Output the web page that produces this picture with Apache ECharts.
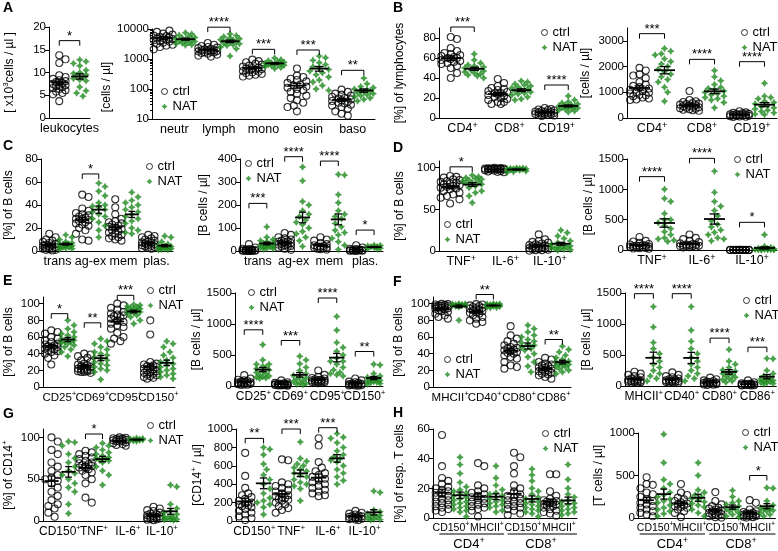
<!DOCTYPE html>
<html><head><meta charset="utf-8">
<script src="https://cdn.jsdelivr.net/npm/echarts@6/dist/echarts.min.js"></script>
<style>html,body{margin:0;padding:0;background:#fff}#c{width:778px;height:551px}</style>
</head><body><div id="c"></div>
<script>
// ---------------- DATA ----------------
// A left: leukocytes [x10^3 cells/µl]
const leuko_categories = ['leukocytes'];
const leuko_ticks = [0, 5, 10, 15, 20];
const leuko_ctrl = [[13.8, 12.9, 12.1, 9.4, 9.0, 8.6, 8.3, 8.1, 7.9, 7.7, 7.5, 7.3, 7.2, 7.0, 6.8, 6.6, 6.4, 6.1, 5.8, 5.5, 5.2, 3.7]];
const leuko_nat = [[12.8, 12.4, 12.0, 11.5, 10.5, 10.0, 9.8, 9.5, 9.3, 9.0, 8.7, 8.4, 8.2, 6.8, 6.0, 5.5, 4.8]];
const leuko_sig = [[0, '*', 17]];

// A right: blood counts [cells/µl], log axis
const blood_categories = ['neutr', 'lymph', 'mono', 'eosin', 'baso'];
const blood_ticks = [10, 100, 1000, 10000];
const blood_ctrl = [
  [10500, 8800, 8000, 7000, 6500, 6000, 5800, 5500, 5200, 5000, 4800, 4600, 4400, 4200, 4000, 3800, 3500, 3200, 3000, 2800, 2500, 2100],
  [3400, 3000, 2700, 2500, 2400, 2300, 2200, 2100, 2000, 1950, 1900, 1850, 1800, 1750, 1700, 1650, 1600, 1500, 1400, 1300, 1200],
  [950, 850, 780, 700, 650, 600, 560, 520, 500, 480, 460, 440, 420, 400, 380, 360, 340, 320, 300, 280, 260],
  [480, 280, 250, 220, 200, 180, 160, 140, 130, 120, 110, 100, 90, 80, 70, 60, 50, 42, 35, 28, 25, 18],
  [95, 80, 70, 65, 60, 55, 50, 48, 45, 42, 40, 38, 35, 33, 30, 28, 25, 22, 18, 15, 13]];
const blood_nat = [
  [7500, 6800, 6200, 5600, 5200, 4900, 4600, 4400, 4200, 4000, 3800, 3600, 3400, 3200, 3000, 2900],
  [6800, 6000, 5500, 5000, 4700, 4400, 4200, 4000, 3800, 3600, 3400, 3200, 3000, 2800, 2500, 2200, 1250],
  [1080, 950, 880, 820, 780, 740, 720, 700, 680, 660, 640, 620, 600, 560, 520, 480],
  [1250, 1100, 900, 750, 650, 550, 500, 450, 400, 350, 300, 250, 200, 170, 130, 100, 90],
  [230, 150, 120, 110, 100, 95, 90, 85, 80, 75, 70, 65, 60, 55, 50, 45, 40]];
const blood_sig = [[1, '****', 11500], [2, '***', 2100], [3, '***', 2000], [4, '**', 420]];

// B left: % of lymphocytes
const lymphPct_categories = ['CD4+', 'CD8+', 'CD19+'];
const lymphPct_ticks = [0, 20, 40, 60, 80];
const lymphPct_ctrl = [
  [81, 79, 70, 67, 65, 64, 63, 62, 61, 60, 60, 59, 58, 57, 56, 55, 54, 52, 50, 45, 40],
  [39, 35, 32, 30, 29, 28, 27, 26, 25, 25, 24, 23, 22, 21, 20, 19, 18, 16, 16, 14, 14],
  [10, 9, 8.5, 8, 7.5, 7, 6.5, 6, 6, 5.5, 5, 5, 4.5, 4, 4, 3.5, 3, 3, 2.5, 2]];
const lymphPct_nat = [
  [64, 58, 55, 53, 52, 51, 50, 49, 48, 47, 46, 45, 44, 43, 42, 40],
  [37, 36, 34, 33, 32, 31, 30, 29, 28, 27, 26, 25, 24, 23, 21, 19, 18],
  [22, 18, 16, 15, 14, 13, 12.5, 12, 11.5, 11, 10.5, 10, 9.5, 9, 8, 7, 6]];
const lymphPct_sig = [[0, '***', 91], [2, '****', 33]];

// B right: lymphocytes [cells/µl]
const lymphAbs_categories = ['CD4+', 'CD8+', 'CD19+'];
const lymphAbs_ticks = [0, 1000, 2000, 3000];
const lymphAbs_ctrl = [
  [1950, 1850, 1700, 1650, 1550, 1400, 1300, 1250, 1200, 1150, 1100, 1050, 1000, 980, 950, 900, 880, 850, 800, 760, 720, 700],
  [1050, 700, 650, 620, 580, 560, 540, 520, 500, 480, 460, 440, 420, 400, 380, 360, 340, 320, 300, 280],
  [260, 220, 200, 180, 160, 150, 140, 130, 120, 110, 100, 90, 80, 70, 60, 50, 40]];
const lymphAbs_nat = [
  [2700, 2600, 2500, 2450, 2300, 2200, 2100, 2000, 1900, 1800, 1700, 1600, 1500, 1400, 1200, 1000, 650],
  [1850, 1600, 1450, 1300, 1200, 1150, 1100, 1050, 1000, 950, 900, 850, 800, 750, 700, 600, 400],
  [1350, 850, 800, 750, 650, 600, 550, 500, 450, 400, 350, 300, 250, 200, 150, 130]];
const lymphAbs_sig = [[0, '***', 3280], [1, '****', 2280], [2, '****', 2190]];

// C left: B cell subsets [%]
const bsubPct_categories = ['trans', 'ag-ex', 'mem', 'plas.'];
const bsubPct_ticks = [0, 20, 40, 60, 80];
const bsubPct_ctrl = [
  [15, 12, 10, 9, 8, 7, 6, 5.5, 5, 4.5, 4, 3.5, 3, 2.5, 2, 1.5, 1, 1, 0.5],
  [49, 47, 37, 35, 33, 32, 31, 30, 29, 28, 28, 27, 26, 25, 24, 23, 22, 20, 18, 15, 10, 9],
  [45, 38, 32, 28, 26, 25, 24, 23, 22, 21, 20, 19, 18, 17, 16, 15, 14, 13, 12, 11, 10, 9],
  [14, 13, 12, 11, 10, 9, 8, 7.5, 7, 6.5, 6, 5.5, 5, 4.5, 4, 3.5, 3, 2.5, 2]];
const bsubPct_nat = [
  [14, 12, 10, 8, 7, 6.5, 6, 5.5, 5, 4.5, 4, 3.5, 3, 2.5, 2, 1.5],
  [59, 56, 52, 48, 42, 40, 39, 38, 36, 34, 32, 30, 28, 25, 22, 18, 12],
  [51, 47, 44, 42, 40, 38, 36, 34, 32, 30, 28, 26, 24, 20, 18, 16, 15],
  [13, 12, 8, 6, 5, 4.5, 4, 3.5, 3, 2.5, 2, 2, 1.5, 1, 1]];
const bsubPct_sig = [[1, '*', 67]];

// C right: B cell subsets [B cells/µl]
const bsubAbs_categories = ['trans', 'ag-ex', 'mem', 'plas.'];
const bsubAbs_ticks = [0, 100, 200, 300, 400];
const bsubAbs_ctrl = [
  [30, 15, 10, 8, 6, 5, 4, 3, 3, 2, 2, 1, 1, 1, 0.5, 0.5, 0.5],
  [78, 70, 60, 55, 50, 45, 42, 40, 38, 35, 32, 30, 28, 25, 22, 20, 18, 15, 10, 5],
  [60, 50, 45, 35, 30, 25, 22, 20, 18, 16, 14, 12, 10, 8, 6],
  [25, 15, 10, 8, 6, 5, 4, 3, 2, 2, 1, 1, 1, 0.5]];
const bsubAbs_nat = [
  [105, 60, 50, 45, 40, 35, 32, 30, 28, 25, 22, 20, 18, 15, 12, 10, 8],
  [365, 305, 215, 200, 175, 160, 150, 135, 125, 115, 100, 85, 75, 60, 45, 20],
  [333, 330, 245, 210, 175, 160, 150, 140, 120, 105, 90, 80, 70, 55, 40, 25, 7],
  [25, 24, 22, 20, 18, 15, 12, 10, 8]];
const bsubAbs_sig = [[0, '***', 207], [1, '****', 410], [2, '****', 391], [3, '*', 91]];

// D left: cytokine+ B cells [%]
const bcytPct_categories = ['TNF+', 'IL-6+', 'IL-10+'];
const bcytPct_ticks = [0, 50, 100];
const bcytPct_ctrl = [
  [90, 89, 88, 86, 85, 84, 83, 82, 81, 80, 79, 78, 77, 76, 75, 74, 72, 70, 68, 66, 64, 62, 57],
  [99.7, 99.5, 99.2, 99, 99, 98.9, 98.8, 98.6, 98.5, 98.3, 98, 97.8, 97.5, 97, 96.5, 96, 95.5, 95, 94.5],
  [20, 14, 12, 11, 10, 9, 8, 7, 6.5, 6, 5.5, 5, 4.5, 4, 3.5, 3, 2.5, 2, 1.5, 1, 1, 0.5]];
const bcytPct_nat = [
  [91, 89, 88, 87, 86, 85, 84, 83, 82, 81, 80, 78, 76, 72, 70, 66, 58],
  [99.5, 99.3, 99.1, 99, 98.8, 98.6, 98.4, 98.2, 98, 97.5, 97, 96, 95, 94.5],
  [25, 22, 18, 15, 12, 10, 8, 7, 6, 5, 4.5, 4, 3.5, 3, 2, 1.5, 1]];
const bcytPct_sig = [[0, '*', 101]];

// D right: cytokine+ B cells [B cells/µl]
const bcytAbs_categories = ['TNF+', 'IL-6+', 'IL-10+'];
const bcytAbs_ticks = [0, 500, 1000, 1500];
const bcytAbs_ctrl = [
  [215, 150, 140, 120, 100, 90, 80, 75, 70, 65, 60, 55, 50, 45, 40, 35, 30, 25, 20],
  [255, 200, 180, 150, 130, 110, 100, 90, 85, 80, 75, 70, 65, 60, 55, 50, 45, 40],
  [5, 4, 3, 3, 2, 2, 2, 1.5, 1, 1, 1, 0.5, 0.5, 0.5, 0.3, 0.2, 0.1]];
const bcytAbs_nat = [
  [1000, 850, 800, 600, 500, 500, 450, 400, 350, 300, 250, 200, 180, 160, 140],
  [1300, 950, 800, 720, 650, 560, 480, 420, 380, 330, 290, 250, 200, 180, 150],
  [250, 60, 40, 30, 25, 20, 15, 10, 8, 5, 4, 3, 2, 1]];
const bcytAbs_sig = [[0, '****', 1209], [1, '****', 1511], [2, '*', 456]];

// E left: activation markers [% of B cells]
const bactPct_categories = ['CD25+', 'CD69+', 'CD95+', 'CD150+'];
const bactPct_ticks = [0, 20, 40, 60, 80, 100];
const bactPct_ctrl = [
  [68, 66, 64, 60, 58, 56, 54, 52, 51, 50, 49, 48, 47, 46, 45, 44, 43, 42, 40, 38, 35, 27],
  [40, 39, 37, 35, 32, 30, 28, 27, 26, 25, 24, 23, 22, 21, 21, 20, 20, 19, 19, 18, 18, 17],
  [100, 98, 95, 93, 90, 88, 87, 86, 85, 84, 82, 80, 78, 76, 74, 72, 70, 65, 60, 58, 55, 52],
  [80, 63, 30, 28, 27, 26, 25, 24, 23, 22, 21, 20, 19, 18, 17, 16, 15, 14, 13, 12, 11, 10]];
const bactPct_nat = [
  [80, 74, 70, 66, 64, 62, 60, 58, 57, 56, 55, 54, 53, 52, 50, 48, 45, 42, 37],
  [58, 55, 52, 48, 45, 42, 40, 38, 36, 34, 32, 30, 28, 26, 24, 22, 20, 18, 9],
  [99, 98, 97, 96, 95, 94, 93, 92, 92, 91, 90, 89, 88, 86, 84, 80, 76],
  [55, 52, 48, 42, 38, 35, 32, 30, 28, 26, 24, 22, 20, 18, 16, 14, 12, 10]];
const bactPct_sig = [[0, '*', 88], [1, '**', 77], [2, '***', 110]];

// E right: activation markers [B cells/µl]
const bactAbs_categories = ['CD25+', 'CD69+', 'CD95+', 'CD150+'];
const bactAbs_ticks = [0, 500, 1000, 1500];
const bactAbs_ctrl = [
  [175, 120, 100, 90, 80, 70, 60, 55, 50, 45, 40, 35, 30, 25, 20, 15],
  [90, 60, 50, 45, 40, 35, 30, 28, 25, 22, 20, 18, 15, 12, 10, 8, 5],
  [250, 180, 150, 130, 120, 110, 100, 95, 90, 85, 80, 75, 70, 65, 60, 55, 50, 45],
  [120, 90, 70, 60, 50, 40, 35, 30, 25, 20, 15, 12, 10, 8, 5]];
const bactAbs_nat = [
  [665, 420, 350, 350, 320, 300, 280, 260, 240, 220, 200, 180, 160, 150, 140, 130, 120],
  [480, 420, 360, 300, 250, 200, 170, 150, 130, 110, 90, 70, 50, 40, 30, 20],
  [1120, 900, 700, 620, 560, 500, 450, 400, 400, 350, 300, 260, 220, 200, 180, 160],
  [350, 340, 200, 160, 140, 120, 110, 100, 90, 80, 70, 60, 50, 40, 30]];
const bactAbs_sig = [[0, '****', 906], [1, '***', 734], [2, '****', 1419], [3, '**', 556]];

// F left: APC markers [% of B cells]
const bapcPct_categories = ['MHCII+', 'CD40+', 'CD80+', 'CD86+'];
const bapcPct_ticks = [0, 20, 40, 60, 80, 100];
const bapcPct_ctrl = [
  [99.8, 99.5, 99, 98.5, 98, 97.5, 97, 96.5, 96, 95.5, 95, 94.5, 94, 93, 92, 91, 90, 88, 86, 84, 82],
  [99.5, 99, 98, 97, 96, 95, 94.5, 94, 93, 92, 91, 90, 89, 88, 86, 84, 82, 80, 78, 76],
  [73, 62, 58, 55, 52, 50, 48, 47, 46, 45, 44, 43, 42, 41, 40, 38, 36, 34, 30, 26, 24, 22],
  [35, 33, 30, 28, 27, 26, 25, 24, 23, 22, 21, 20, 19, 18, 17, 16, 15, 14, 12, 10]];
const bapcPct_nat = [
  [99.8, 99.5, 99.2, 99, 98.8, 98.5, 98.2, 98, 97.5, 97, 96, 80],
  [99.8, 99.5, 99.3, 99, 98.8, 98.5, 98.2, 98, 97.8, 97.5, 97, 96.5, 96, 95.5, 95],
  [74, 70, 66, 62, 60, 57, 55, 53, 51, 50, 48, 46, 44, 40, 36, 30, 25, 18],
  [49, 45, 42, 38, 35, 33, 31, 30, 29, 28, 27, 26, 25, 24, 22, 20, 18, 16]];
const bapcPct_sig = [[1, '**', 111], [3, '**', 57]];

// F right: APC markers [B cells/µl]
const bapcAbs_categories = ['MHCII+', 'CD40+', 'CD80+', 'CD86+'];
const bapcAbs_ticks = [0, 500, 1000, 1500];
const bapcAbs_ctrl = [
  [230, 200, 180, 160, 140, 120, 110, 100, 90, 85, 80, 75, 70, 65, 60, 55, 50],
  [220, 180, 160, 140, 120, 110, 100, 90, 85, 80, 75, 70, 65, 60, 55, 50],
  [135, 110, 90, 80, 70, 60, 55, 50, 45, 40, 35, 30, 25, 20, 15],
  [90, 60, 45, 40, 35, 30, 25, 22, 20, 18, 15, 12, 10, 8]];
const bapcAbs_nat = [
  [1280, 950, 700, 600, 520, 460, 400, 350, 300, 250, 200, 160, 120, 80],
  [1280, 900, 720, 600, 520, 460, 400, 350, 300, 250, 200, 160, 120, 80],
  [590, 400, 350, 300, 260, 240, 220, 200, 180, 160, 140, 120, 100, 80, 60],
  [445, 440, 250, 200, 160, 130, 110, 100, 90, 80, 70, 60, 50, 40, 30]];
const bapcAbs_sig = [[0, '****', 1489], [1, '****', 1489], [2, '****', 772], [3, '***', 626]];

// G left: monocytes [% of CD14+]
const monoPct_categories = ['CD150+', 'TNF+', 'IL-6+', 'IL-10+'];
const monoPct_ticks = [0, 50, 100];
const monoPct_ctrl = [
  [100, 95, 85, 80, 70, 65, 60, 55, 52, 50, 48, 45, 40, 35, 30, 25, 20, 18, 15, 10, 5],
  [84, 82, 80, 78, 76, 74, 72, 70, 69, 68, 67, 66, 65, 64, 62, 60, 58, 55, 50, 45, 28, 22],
  [100, 99.5, 99, 98.5, 98, 97.5, 97, 96.5, 96, 95.5, 95, 94, 93, 92, 91, 90],
  [17, 15, 13, 12, 10, 9, 8, 7, 6, 5.5, 5, 4.5, 4, 3.5, 3, 2.5, 2, 1.5, 1]];
const monoPct_nat = [
  [95, 94, 90, 80, 75, 70, 65, 60, 57, 55, 50, 45, 40, 35, 20, 9],
  [93, 90, 88, 85, 82, 80, 78, 76, 75, 74, 73, 72, 70, 65, 60, 55, 43],
  [99, 98.5, 98, 97.8, 97.5, 97.2, 97, 96.8, 96.5, 96, 95.5],
  [43, 41, 20, 15, 12, 10, 8, 6, 5, 4, 3, 2, 2, 1.5, 1]];
const monoPct_sig = [[1, '*', 104]];

// G right: monocytes [CD14+/µl]
const monoAbs_categories = ['CD150+', 'TNF+', 'IL-6+', 'IL-10+'];
const monoAbs_ticks = [0, 200, 400, 600, 800, 1000];
const monoAbs_ctrl = [
  [740, 490, 360, 300, 280, 260, 240, 220, 200, 190, 180, 170, 160, 150, 130, 110, 90, 70, 50, 30, 10],
  [670, 660, 420, 400, 380, 360, 340, 320, 300, 280, 270, 260, 250, 240, 230, 220, 200, 180, 160, 140, 120, 90],
  [900, 820, 640, 580, 540, 520, 500, 480, 460, 440, 420, 400, 380, 360, 340, 320, 300, 280, 270],
  [110, 90, 80, 70, 60, 55, 50, 45, 40, 35, 30, 25, 20, 15, 10]];
const monoAbs_nat = [
  [800, 780, 720, 620, 560, 500, 450, 400, 350, 300, 250, 220, 200, 180, 150, 70],
  [860, 680, 650, 620, 600, 580, 560, 540, 520, 500, 480, 450, 420, 400, 380, 350, 220],
  [950, 910, 900, 850, 800, 760, 720, 700, 680, 660, 640, 600, 560, 520, 480, 440, 400],
  [325, 310, 120, 100, 80, 70, 60, 50, 40, 30, 20, 15, 10]];
const monoAbs_sig = [[0, '**', 898], [1, '***', 1000], [2, '***', 1014]];

// H left: T cells [% of resp. T cells]
const tPct_categories = ['CD150+', 'MHCII+', 'CD150+', 'MHCII+'];
const tPct_groups = ['CD4+', 'CD8+'];
const tPct_ticks = [0, 20, 40, 60];
const tPct_ctrl = [
  [56, 35, 27, 25, 23, 21, 20, 19, 18, 17, 16, 15, 14, 13, 12, 11, 10, 9, 8, 7, 6, 5, 4],
  [37, 35, 22, 20, 18, 17, 16, 15, 14, 13, 12, 11, 10, 9, 8, 7, 6, 5, 1],
  [44, 41, 35, 30, 22, 20, 18, 16, 15, 14, 13, 12, 11, 10, 9, 8, 7, 6, 5, 3, 2],
  [29.5, 29.5, 18, 15, 13, 12, 11.5, 11, 10.5, 10, 9.5, 9, 8.5, 8, 7, 6, 5, 4, 3, 1.5]];
const tPct_nat = [
  [41, 36, 30, 24, 21, 19, 18, 17, 16, 15, 14, 13, 12, 11, 10, 9, 8, 7, 6, 5, 4, 1],
  [35, 27, 22, 19, 17, 16, 15, 14, 13, 12, 11, 10, 9, 8, 7, 5, 4],
  [33, 29, 25, 20, 18, 16, 14, 13, 12, 11, 10, 9, 8, 7, 6, 5, 4, 3, 1],
  [36, 26, 20, 16, 14, 12, 11, 10, 9, 8, 7, 6, 5, 4, 3, 2]];
const tPct_sig = [];

// H right: T cells [T cells/µl]
const tAbs_categories = ['CD150+', 'MHCII+', 'CD150+', 'MHCII+'];
const tAbs_groups = ['CD4+', 'CD8+'];
const tAbs_ticks = [0, 500, 1000];
const tAbs_ctrl = [
  [480, 400, 390, 350, 300, 280, 250, 220, 200, 180, 160, 140, 120, 100, 80, 60, 40, 20],
  [400, 300, 270, 240, 220, 200, 185, 170, 160, 150, 140, 130, 120, 100, 80, 60, 10],
  [305, 200, 160, 140, 120, 110, 100, 90, 80, 70, 60, 50, 45, 40, 30, 20, 10, 5],
  [210, 180, 100, 80, 70, 60, 55, 50, 45, 40, 35, 30, 25, 20, 15, 10, 5]];
const tAbs_nat = [
  [985, 650, 450, 400, 350, 300, 270, 250, 220, 200, 180, 150, 120, 100, 80, 50, 20],
  [650, 500, 330, 300, 270, 250, 230, 210, 190, 170, 150, 130, 100, 60, 20],
  [325, 250, 200, 180, 160, 140, 120, 110, 100, 80, 60, 40, 20, 10],
  [355, 350, 200, 150, 130, 120, 110, 100, 90, 80, 60, 40, 20]];
const tAbs_sig = [[3, '*', 500]];

// ---------------- LAYOUT / STYLE ----------------
const FONT = '"Liberation Sans", Arial, Helvetica, sans-serif';
const GREEN = '#1f8a1f';
const STAR = 'path://M0,-10L3.9,-3.9L10,0L3.9,3.9L0,10L-3.9,3.9L-10,0L-3.9,-3.9Z';

const panels = [
  {cats: leuko_categories, ctrl: leuko_ctrl, nat: leuko_nat, sig: leuko_sig, ticks: leuko_ticks, min: 0, max: 20,
   box: [49, 90, 27, 118], name: '[ x10^3cells / µl ]', nameGap: 33, catFont: 12.5},
  {cats: blood_categories, ctrl: blood_ctrl, nat: blood_nat, sig: blood_sig, ticks: blood_ticks, min: 10, max: 10000, log: true,
   box: [152, 375, 29, 119], name: '[cells / µl]', nameGap: 22, namePad: [0, 26, 0, 0], legend: [161, 85], catFont: 12.5},
  {cats: lymphPct_categories, ctrl: lymphPct_ctrl, nat: lymphPct_nat, sig: lymphPct_sig, ticks: lymphPct_ticks, min: 0, max: 90,
   box: [439, 580, 28, 118], name: '[%] of lymphocytes', nameGap: 33, legend: [541, 26], catFont: 12.5},
  {cats: lymphAbs_categories, ctrl: lymphAbs_ctrl, nat: lymphAbs_nat, sig: lymphAbs_sig, ticks: lymphAbs_ticks, min: 0, max: 3500,
   box: [627, 777, 28, 118], name: '[cells / µl]', nameGap: 35, legend: [741, 26], catFont: 12.5},
  {cats: bsubPct_categories, ctrl: bsubPct_ctrl, nat: bsubPct_nat, sig: bsubPct_sig, ticks: bsubPct_ticks, min: 0, max: 80,
   box: [41, 173, 159, 251], name: '[%] of B cells', nameGap: 26, legend: [146, 160], catFont: 12.5},
  {cats: bsubAbs_categories, ctrl: bsubAbs_ctrl, nat: bsubAbs_nat, sig: bsubAbs_sig, ticks: bsubAbs_ticks, min: 0, max: 400,
   box: [240, 383, 159, 251], name: '[B cells / µl]', nameGap: 30, legend: [245, 157], catFont: 12.5},
  {cats: bcytPct_categories, ctrl: bcytPct_ctrl, nat: bcytPct_nat, sig: bcytPct_sig, ticks: bcytPct_ticks, min: 0, max: 108,
   box: [439, 572, 161, 251], name: '[%] of B cells', nameGap: 33, legend: [444, 218], catFont: 12.5},
  {cats: bcytAbs_categories, ctrl: bcytAbs_ctrl, nat: bcytAbs_nat, sig: bcytAbs_sig, ticks: bcytAbs_ticks, min: 0, max: 1500,
   box: [627, 777, 159, 250], name: '[B cells / µl]', nameGap: 29, legend: [734, 153], catFont: 12.5},
  {cats: bactPct_categories, ctrl: bactPct_ctrl, nat: bactPct_nat, sig: bactPct_sig, ticks: bactPct_ticks, min: 0, max: 108,
   box: [43, 175, 297, 387], name: '[%] of B cells', nameGap: 28, legend: [147, 284], catFont: 11.5},
  {cats: bactAbs_categories, ctrl: bactAbs_ctrl, nat: bactAbs_nat, sig: bactAbs_sig, ticks: bactAbs_ticks, min: 0, max: 1500,
   box: [235, 383, 293, 386], name: '[B cells / µl]', nameGap: 26, legend: [248, 286], catFont: 12},
  {cats: bapcPct_categories, ctrl: bapcPct_ctrl, nat: bapcPct_nat, sig: bapcPct_sig, ticks: bapcPct_ticks, min: 0, max: 108,
   box: [433, 571, 297, 387], name: '[%] of B cells', nameGap: 28, legend: [444, 353], catFont: 11.5},
  {cats: bapcAbs_categories, ctrl: bapcAbs_ctrl, nat: bapcAbs_nat, sig: bapcAbs_sig, ticks: bapcAbs_ticks, min: 0, max: 1500,
   box: [625, 777, 293, 386], name: '[B cells / µl]', nameGap: 28, legend: [743, 294], catFont: 12},
  {cats: monoPct_categories, ctrl: monoPct_ctrl, nat: monoPct_nat, sig: monoPct_sig, ticks: monoPct_ticks, min: 0, max: 110,
   box: [43, 179, 429, 521], name: '[%] of CD14+', nameGap: 28, legend: [147, 419], catFont: 12},
  {cats: monoAbs_categories, ctrl: monoAbs_ctrl, nat: monoAbs_nat, sig: monoAbs_sig, ticks: monoAbs_ticks, min: 0, max: 1000,
   box: [236, 383, 429, 521], name: '[CD14+ / µl]', nameGap: 27, catFont: 12},
  {cats: tPct_categories, groups: tPct_groups, ctrl: tPct_ctrl, nat: tPct_nat, sig: tPct_sig, ticks: tPct_ticks, min: 0, max: 60,
   box: [433, 577, 429, 521], name: '[%] of resp. T cells', nameGap: 27, legend: [542, 427], spans: [[0.35, 3.95], [4.15, 8]], catFont: 10.5},
  {cats: tAbs_categories, groups: tAbs_groups, ctrl: tAbs_ctrl, nat: tAbs_nat, sig: tAbs_sig, ticks: tAbs_ticks, min: 0, max: 1000,
   box: [638, 777, 433, 520], name: '[T cells / µl]', nameGap: 33, legend: [742, 426], spans: [[0.1, 3.9], [4.15, 8]], catFont: 10.5}
];
const letters = [['A', 3, 1], ['B', 393, 1], ['C', 3, 139], ['D', 393, 141], ['E', 3, 274], ['F', 393, 275], ['G', 3, 407], ['H', 393, 406]];

// ---------------- HELPERS ----------------
function rt(s) {
  return s.split(/(\+|\^3)/).filter(p => p !== '').map(p =>
    p === '+' ? '{s|+}' : (p === '^3' ? '{s|3}' : '{n|' + p + '}')).join('');
}
function richStyle(fs) {
  const ss = Math.round(fs * 0.68);
  return {
    n: {fontSize: fs, lineHeight: fs + 2, verticalAlign: 'bottom', color: '#000', fontFamily: FONT},
    s: {fontSize: ss, lineHeight: ss, verticalAlign: 'top', color: '#000', fontFamily: FONT}
  };
}
function stats(v) {
  const n = v.length, m = v.reduce((a, b) => a + b, 0) / n;
  const sd = Math.sqrt(v.reduce((a, b) => a + (b - m) * (b - m), 0) / (n - 1));
  return [m, sd / Math.sqrt(n)];
}
// deterministic beeswarm: spreads points horizontally (pixel space) to avoid overlap
function swarm(vals, center, pxX, toPy, r, maxOff) {
  const pts = vals.map((v, i) => ({py: toPy(v), i}));
  const order = pts.slice().sort((a, b) => b.py - a.py);
  const placed = [], res = new Array(vals.length), step = r * 0.95;
  for (const p of order) {
    let best = 0, bestScore = -Infinity, done = false;
    for (let k = 0; k <= 14 && !done; k++) {
      for (const sgn of (k === 0 ? [1] : [1, -1])) {
        const off = sgn * k * step;
        if (Math.abs(off) > maxOff) continue;
        let minD = Infinity;
        for (const q of placed) {
          const d = Math.hypot(q.ox - off, q.py - p.py);
          if (d < minD) minD = d;
        }
        if (minD >= 2 * r * 0.9) { best = off; done = true; break; }
        if (minD > bestScore) { bestScore = minD; best = off; }
      }
    }
    placed.push({ox: best, py: p.py});
    res[p.i] = center + best / pxX;
  }
  return res;
}

// ---------------- BUILD OPTION ----------------
const option = {animation: false, backgroundColor: '#fff', textStyle: {fontFamily: FONT},
  grid: [], xAxis: [], yAxis: [], series: [], legend: [], graphic: []};

panels.forEach((p) => {
  const [L, R, T, Z] = p.box;
  const g = option.grid.length;
  option.grid.push({left: L, top: T, width: R - L, height: Z - T, containLabel: false});
  const nG = p.cats.length * 2;
  option.xAxis.push({type: 'category', gridIndex: g, data: p.cats, boundaryGap: true, position: 'bottom',
    axisLine: {show: true, onZero: false, lineStyle: {color: '#000', width: 1}}, axisTick: {show: false},
    axisLabel: {interval: 0, hideOverlap: false, margin: 3, color: '#000', formatter: v => rt(v), rich: richStyle(p.catFont)},
    splitLine: {show: false}});
  const xv = option.xAxis.length;
  option.xAxis.push({type: 'value', gridIndex: g, min: 0, max: nG, show: false});
  if (p.groups) {
    option.xAxis.push({type: 'category', gridIndex: g, data: p.groups, boundaryGap: true, position: 'bottom', offset: 16,
      axisLine: {show: false}, axisTick: {show: false},
      axisLabel: {interval: 0, margin: 2, formatter: v => rt(v), rich: richStyle(13)}});
  }
  const yi = option.yAxis.length;
  option.yAxis.push({type: p.log ? 'log' : 'value', logBase: 10, gridIndex: g, min: p.min, max: p.max, position: 'left',
    axisLine: {show: true, onZero: false, lineStyle: {color: '#000', width: 1}},
    axisTick: {show: true, length: 4, customValues: p.ticks, lineStyle: {color: '#000', width: 1}},
    axisLabel: {customValues: p.ticks, color: '#000', fontSize: 11.5, margin: 3, fontFamily: FONT, formatter: v => String(Math.round(v))},
    splitLine: {show: false},
    name: rt(p.name), nameLocation: 'middle', nameGap: p.nameGap, nameRotate: 90,
    nameTextStyle: {rich: richStyle(12), padding: p.namePad || 0}});
  if (p.log) {
    const minor = [];
    for (let d = p.min; d < p.max; d *= 10) for (let k = 2; k <= 9; k++) minor.push(d * k);
    option.yAxis.push({type: 'log', logBase: 10, gridIndex: g, min: p.min, max: p.max, position: 'left',
      axisLine: {show: false}, axisLabel: {show: false}, splitLine: {show: false},
      axisTick: {show: true, length: 2, customValues: minor, lineStyle: {color: '#000'}}});
  }
  const W = R - L, H = Z - T, pxX = W / nG;
  const toPy = p.log
    ? v => (Math.log10(v) - Math.log10(p.min)) / (Math.log10(p.max) - Math.log10(p.min)) * H
    : v => (v - p.min) / (p.max - p.min) * H;
  const ctrlData = [], natData = [], statData = [];
  p.cats.forEach((c, k) => {
    [[p.ctrl[k], 2 * k + 0.5, ctrlData], [p.nat[k], 2 * k + 1.5, natData]].forEach(([vals, cx, arr]) => {
      const xs = swarm(vals, cx, pxX, toPy, 3.3, pxX * 0.45);
      vals.forEach((v, i) => arr.push([xs[i], v]));
      const [m, s] = stats(vals);
      statData.push([cx, m, s]);
    });
  });
  option.series.push({type: 'scatter', name: 'ctrl', xAxisIndex: xv, yAxisIndex: yi, data: ctrlData,
    symbol: 'circle', symbolSize: 7, z: 2,
    itemStyle: {color: 'rgba(0,0,0,0)', borderColor: '#000', borderWidth: 1.1}, emphasis: {disabled: true}});
  option.series.push({type: 'scatter', name: 'NAT', xAxisIndex: xv, yAxisIndex: yi, data: natData,
    symbol: STAR, symbolSize: 7.5, z: 2, itemStyle: {color: GREEN}, emphasis: {disabled: true}});
  option.series.push({type: 'custom', xAxisIndex: xv, yAxisIndex: yi, data: statData, z: 4, clip: false,
    encode: {x: 0, y: 1}, silent: true,
    renderItem: (params, api) => {
      const x = api.value(0), m = api.value(1), s = api.value(2);
      const c = api.coord([x, m]);
      const u = api.coord([x + 1, m])[0] - c[0];
      const hi = api.coord([x, m + s])[1];
      const lo = api.coord([x, Math.max(m - s, p.log ? p.min * 0.5 : -1e9)])[1];
      const hw = u * 0.42, cw = u * 0.2;
      const st = {stroke: '#000', lineWidth: 1.3};
      return {type: 'group', children: [
        {type: 'line', shape: {x1: c[0] - hw, y1: c[1], x2: c[0] + hw, y2: c[1]}, style: {stroke: '#000', lineWidth: 1.8}},
        {type: 'line', shape: {x1: c[0], y1: hi, x2: c[0], y2: lo}, style: st},
        {type: 'line', shape: {x1: c[0] - cw, y1: hi, x2: c[0] + cw, y2: hi}, style: st},
        {type: 'line', shape: {x1: c[0] - cw, y1: lo, x2: c[0] + cw, y2: lo}, style: st}]};
    }});
  if (p.sig.length) {
    const labels = p.sig.map(s => s[1]);
    option.series.push({type: 'custom', xAxisIndex: xv, yAxisIndex: yi, z: 5, clip: false, silent: true,
      data: p.sig.map(s => [2 * s[0] + 0.5, 2 * s[0] + 1.5, s[2]]), encode: {x: [0, 1], y: 2},
      renderItem: (params, api) => {
        const a = api.coord([api.value(0), api.value(2)]);
        const b = api.coord([api.value(1), api.value(2)]);
        return {type: 'group', children: [
          {type: 'polyline', shape: {points: [[a[0], a[1] + 5], [a[0], a[1]], [b[0], b[1]], [b[0], b[1] + 5]]},
           style: {stroke: '#000', lineWidth: 1, fill: null}},
          {type: 'text', x: (a[0] + b[0]) / 2, y: a[1] + 2,
           style: {text: labels[params.dataIndex], fill: '#000', font: '13px ' + FONT, align: 'center', verticalAlign: 'bottom'}}]};
      }});
  }
  if (p.spans) {
    option.series.push({type: 'custom', xAxisIndex: xv, yAxisIndex: yi, z: 5, clip: false, silent: true,
      data: p.spans.map(s => [s[0], s[1], p.min]), encode: {x: [0, 1], y: 2},
      renderItem: (params, api) => {
        const a = api.coord([api.value(0), api.value(2)]);
        const b = api.coord([api.value(1), api.value(2)]);
        return {type: 'line', shape: {x1: a[0], y1: a[1] + 16, x2: b[0], y2: a[1] + 16}, style: {stroke: '#000', lineWidth: 1}};
      }});
  }
  if (p.legend) {
    option.legend.push({left: p.legend[0], top: p.legend[1], orient: 'vertical', itemWidth: 6, itemHeight: 6, itemGap: 2,
      padding: 0, selectedMode: false, textStyle: {fontSize: 13, color: '#000', fontFamily: FONT},
      data: [{name: 'ctrl', icon: 'circle', itemStyle: {color: 'rgba(0,0,0,0)', borderColor: '#000', borderWidth: 1}},
             {name: 'NAT', icon: STAR, itemStyle: {color: GREEN, borderWidth: 0}}]});
  }
});
letters.forEach(([t, x, y]) => option.graphic.push({type: 'text', left: x, top: y,
  style: {text: t, fill: '#000', font: 'bold 14px ' + FONT}}));

const chart = echarts.init(document.getElementById('c'), null, {renderer: 'canvas'});
chart.setOption(option);
</script>
</body></html>
